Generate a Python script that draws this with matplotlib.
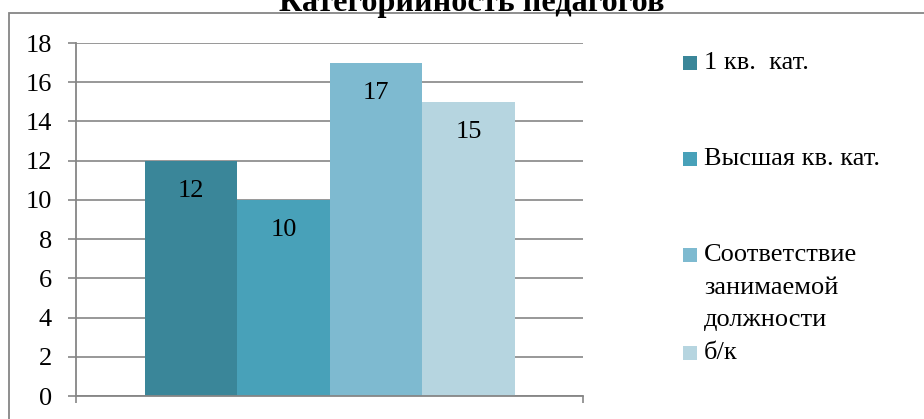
import matplotlib
matplotlib.use('Agg')
import matplotlib.pyplot as plt
from matplotlib.patches import Rectangle

title = "Категорийность педагогов"
series = ["1 кв.  кат.", "Высшая кв. кат.", "Соответствие\nзанимаемой\nдолжности", "б/к"]
values = [12, 10, 17, 15]
colors = ["#3A8699", "#48A1B9", "#7EBAD0", "#B6D5E0"]
yticks = [0, 2, 4, 6, 8, 10, 12, 14, 16, 18]

plt.rcParams['font.family'] = ['Liberation Serif', 'DejaVu Serif']
W, H = 924, 419
GRAY = '#868686'


def fx(x):
    return x / W


def fy(y):
    return 1 - y / H


fig = plt.figure(figsize=(W / 100, H / 100), dpi=100)
ax = fig.add_axes([fx(76), fy(396), (583 - 76) / W, (396 - 43) / H])

pos = list(range(len(values)))
ax.bar(pos, values, width=1.0, color=colors, zorder=2)
ax.set_xlim(-1.245, 4.235)
ax.set_ylim(0, 18)
ax.set_yticks(yticks)
ax.set_yticklabels([str(t) for t in yticks])
ax.yaxis.grid(True, color=GRAY, lw=1.2, zorder=0)
ax.set_axisbelow(True)
for s in ['top', 'right']:
    ax.spines[s].set_visible(False)
for s in ['left', 'bottom']:
    ax.spines[s].set_color(GRAY)
    ax.spines[s].set_linewidth(1.3)
ax.tick_params(axis='y', length=5.8, width=1.2, color=GRAY, pad=11.5, labelsize=19)
ax.set_xticks(list(ax.get_xlim()))
ax.set_xticklabels([])
ax.tick_params(axis='x', length=5, width=1.2, color=GRAY, direction='out')
for t in ax.xaxis.get_major_ticks():
    t.tick1line.set_clip_on(False)

for i, v in enumerate(values):
    ax.annotate(str(v), (pos[i], v), xytext=(0, -21.6), textcoords='offset points',
                ha='center', va='center', fontsize=19)

# legend (manual, Excel-like spacing)
leg_y = [63, 159, 255, 353]
for lab, c, y in zip(series, colors, leg_y):
    fig.patches.append(Rectangle((fx(683), fy(y + 7)), 14 / W, 14 / H,
                                 transform=fig.transFigure, facecolor=c, edgecolor='none'))
    for j, line in enumerate(lab.split('\n')):
        fig.text(fx(704), fy(y + j * 32.5), line, ha='left', va='center', fontsize=19)

# chart area border
fig.patches.append(Rectangle((fx(9), fy(H + 20)), (W + 20) / W, (H + 20 - 13) / H,
                             transform=fig.transFigure, fill=False, edgecolor=GRAY, lw=1.3))

fig.text(fx(472), fy(11.5), title, ha='center', va='baseline', fontsize=23.2, fontweight='bold')

fig.savefig('out.png', dpi=100)
